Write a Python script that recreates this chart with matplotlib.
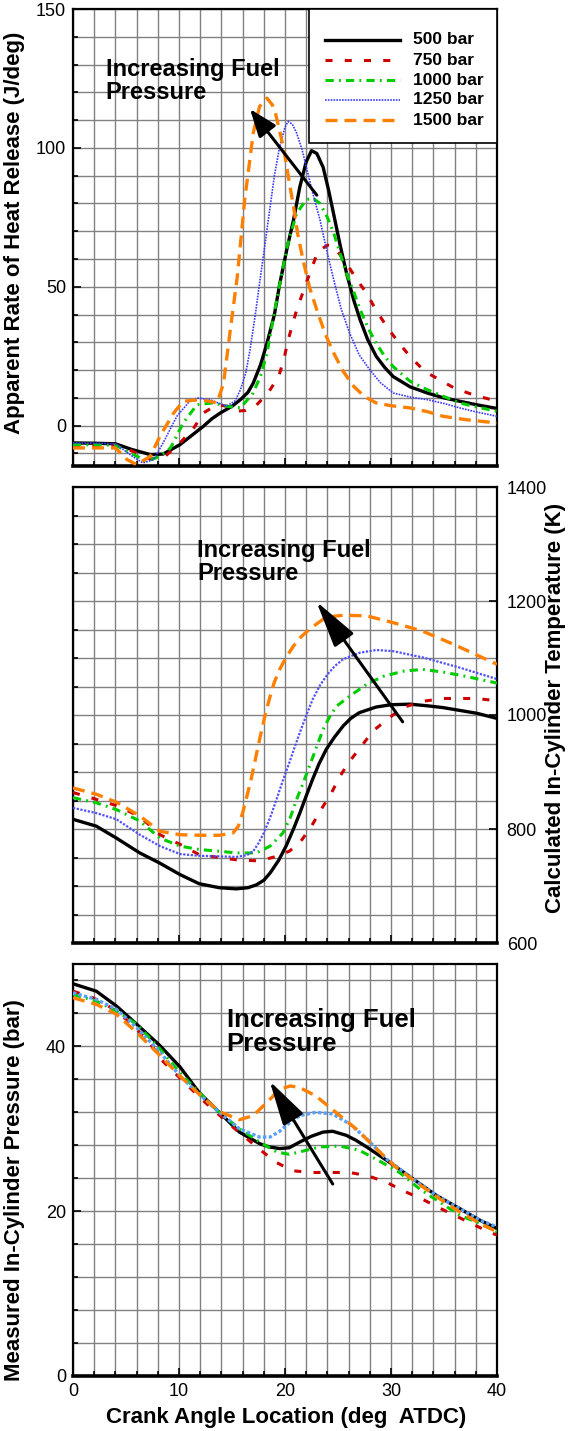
import matplotlib
matplotlib.use("Agg")
import matplotlib.pyplot as plt
from matplotlib.patches import FancyArrowPatch, Rectangle
from matplotlib.lines import Line2D
from matplotlib.ticker import MultipleLocator

plt.rcParams['font.family'] = ['Liberation Sans', 'DejaVu Sans']

# ---------------- data ----------------
pressures = ['500 bar', '750 bar', '1000 bar', '1250 bar', '1500 bar']

# Apparent rate of heat release (J/deg)
hr500_deg = [0, 2, 4, 5.5, 7.3, 8.5, 10.1, 11.2, 12.3, 13.1, 13.9, 15.0, 15.8, 16.5, 17.0, 17.7, 18.3,
             19.0, 19.5, 20.2, 20.8, 21.4, 22.0, 22.5, 23.0, 23.6, 24.1, 24.6, 25.2, 25.8, 26.5, 27.1,
             27.8, 28.6, 29.4, 30.2, 31.8, 33.4, 35.0, 36.5, 38.0, 40]
hr500_val = [-6.2, -6.3, -6.5, -8.5, -10.4, -10.2, -6.8, -3.5, -0.2, 2.5, 4.6, 7.0, 9.4, 12.0, 15.3, 22.0, 29.7,
             40, 51, 64, 74, 86, 95, 99, 98, 93, 85, 76, 65, 55, 45, 38,
             31, 25, 21, 17.7, 14, 11.8, 10, 8.8, 7.6, 6.2]

hr750_deg = [0, 2, 4, 5.5, 7.3, 8.7, 10.1, 11.4, 12.3, 13.6, 14.5, 15.4, 16.3, 17.2, 18.4, 19.4, 19.9,
             20.3, 21.1, 22.0, 23.1, 24.0, 24.6, 25.8, 26.7, 27.7, 28.6, 29.6, 30.7, 31.8, 33.2, 34.6,
             36.0, 37.7, 40]
hr750_val = [-7.4, -7.2, -7.0, -9.0, -12.0, -11.0, -6.2, -0.8, 4.6, 7.6, 7.0, 5.2, 5.5, 7.0, 11.8, 17.7, 24,
             30.9, 41.7, 51.3, 62.7, 65, 64.5, 58.5, 53, 47.7, 41.5, 35.7, 30, 24.9, 19.5, 16.5,
             13.5, 11.2, 8.8]

hr1000_deg = [0, 2, 4, 5.5, 7.0, 8.2, 9.2, 10.4, 11.7, 13.2, 14.5, 15.8, 17.0, 17.7, 18.3, 19.2, 20.2,
              21.1, 22.0, 22.6, 23.3, 24.0, 24.6, 25.2, 25.8, 26.5, 27.1, 27.8, 28.6, 29.4, 30.2, 31.8,
              33.4, 35.0, 36.5, 38.0, 40]
hr1000_val = [-6.8, -6.9, -7.0, -10.0, -12.8, -11.0, -8.0, 1.0, 7.6, 8.2, 7.0, 6.4, 11.8, 18, 26, 45, 64.5,
              76.5, 81.3, 82, 80, 75, 69.3, 62, 54.9, 48, 41.7, 35.5, 29.7, 25, 21.3, 16,
              13, 10.5, 8.2, 6.8, 5.2]

hr1250_deg = [0, 2, 4, 5.6, 6.6, 7.6, 8.5, 9.8, 11.0, 11.7, 12.9, 14.5, 15.3, 15.8, 16.3, 16.7, 17.2,
              17.6, 18.1, 18.6, 19.0, 19.5, 20.0, 20.3, 20.7, 21.1, 21.6, 22.0, 22.6, 23.3, 24.0, 24.6,
              25.3, 26.1, 27.0, 28.0, 29.0, 30.2, 31.8, 33.4, 35.0, 36.5, 38.0, 40]
hr1250_val = [-6.2, -6.3, -6.5, -11.0, -13.4, -12.2, -6.2, 3.4, 8.8, 10.0, 9.4, 7.0, 9.0, 13, 19, 27.3, 40,
              51.3, 65, 78.9, 90, 100.5, 107.5, 109.5, 108.5, 105.3, 99.5, 93.3, 84, 74.1, 62, 52.5,
              42, 33.3, 25.5, 20.1, 15.5, 11.8, 10.3, 9.4, 8.0, 6.4, 5.0, 3.4]

hr1500_deg = [0, 2, 4, 5.1, 6.0, 7.3, 8.2, 9.5, 10.4, 12.0, 13.6, 14.2, 14.8, 15.5, 16.2, 17.0, 17.6,
              18.3, 18.8, 19.1, 19.5, 19.9, 20.3, 20.8, 21.2, 21.7, 22.3, 23.0, 23.8, 24.6, 25.5, 26.5,
              27.5, 28.6, 30.0, 31.8, 33.5, 34.9, 37.0, 40]
hr1500_val = [-8, -8, -8, -12.2, -14, -11, -3.8, 4.6, 8.8, 9.4, 8.2, 15.3, 33.3, 53.7, 81.3, 105.3, 114.9,
              117.9, 115.5, 112.5, 106, 99.3, 90, 78.9, 69, 59.7, 50, 41.7, 33, 26.1, 19.5, 14.1,
              10.5, 8.2, 7.2, 6.4, 5.0, 3.4, 2.2, 1.0]

# Calculated in-cylinder temperature (K)
t500_deg = [0, 2.2, 4.1, 6.3, 8.2, 10.1, 11.9, 13.8, 15.4, 16.5, 17.3, 18.0, 18.6, 19.4, 20.1, 20.8, 21.4,
            22.0, 22.6, 23.2, 23.9, 24.7, 25.5, 26.2, 27.0, 28.6, 30.0, 31.8, 33.5, 34.9, 36.5, 38.1, 40]
t500_val = [817, 805, 784, 758, 740, 720, 704, 697, 695, 697, 702, 710, 723, 745, 770, 800, 828,
            858, 887, 914, 940, 962, 981, 994, 1004, 1014, 1018, 1019, 1016, 1013, 1008, 1003, 994]

t750_deg = [0, 2.2, 4.1, 6.3, 8.2, 10.1, 11.9, 13.8, 15.4, 17.6, 19.2, 20.4, 21.4, 22.5, 23.4, 24.4, 25.2,
            26.1, 27.2, 28.3, 29.7, 31.1, 33.0, 34.9, 36.5, 38.0, 40]
t750_val = [864, 852, 841, 822, 790, 773, 755, 750, 746, 744, 752, 761, 776, 805, 834, 864, 893,
            919, 945, 972, 993, 1013, 1024, 1029, 1029, 1029, 1025]

t1000_deg = [0, 2.2, 4.1, 6.3, 8.2, 10.1, 11.9, 13.8, 15.4, 17.3, 18.6, 19.8, 20.5, 21.1, 21.7, 22.3, 23.0,
             23.6, 24.3, 24.9, 26.1, 27.7, 29.3, 31.2, 33.0, 35.0, 37.0, 40]
t1000_val = [855, 846, 834, 814, 784, 770, 764, 761, 758, 758, 770, 793, 820, 852, 880, 910, 945,
             975, 1000, 1016, 1033, 1054, 1068, 1077, 1080, 1075, 1068, 1056]

t1250_deg = [0, 2.2, 4.1, 6.3, 8.2, 10.1, 11.9, 13.8, 15.4, 16.4, 17.0, 17.5, 18.0, 18.6, 19.2, 19.8, 20.4,
             20.9, 21.4, 22.0, 22.6, 23.3, 24.0, 24.7, 25.5, 27.0, 28.6, 30.2, 33.0, 36.5, 40]
t1250_val = [837, 828, 817, 790, 770, 756, 753, 752, 751, 754, 761, 775, 793, 820, 852, 885, 916,
             943, 969, 999, 1027, 1052, 1071, 1086, 1098, 1109, 1114, 1112, 1101, 1083, 1063]

t1500_deg = [0, 2.2, 4.1, 6.3, 8.2, 10.1, 12.0, 13.8, 15.1, 15.6, 16.0, 16.4, 16.8, 17.2, 17.6, 18.1, 18.6,
             19.0, 19.5, 20.1, 20.8, 21.5, 22.3, 23.0, 23.6, 24.5, 25.5, 27.7, 30.2, 33.0, 35.9, 40]
t1500_val = [872, 861, 847, 823, 796, 790, 789, 789, 793, 805, 828, 857, 887, 922, 957, 998, 1033,
             1058, 1080, 1101, 1121, 1137, 1150, 1160, 1168, 1173, 1175, 1174, 1162, 1147, 1124, 1089]

# Measured in-cylinder pressure (bar)
p500_deg = [0, 2.2, 4.1, 6.0, 8.2, 10.1, 11.9, 13.8, 15.7, 17.6, 18.5, 19.5, 20.4, 21.4, 22.5, 23.6, 24.5,
            25.8, 26.7, 27.7, 29.9, 32.1, 34.3, 36.5, 38.4, 40]
p500_val = [47.6, 46.7, 44.9, 42.7, 40.1, 37.5, 34.4, 32.0, 29.6, 28.2, 27.8, 27.6, 27.7, 28.4, 29.1, 29.6, 29.7,
            29.2, 28.6, 27.8, 25.9, 23.9, 21.9, 20.3, 18.9, 17.9]

p750_deg = [0, 1.9, 3.6, 5.0, 6.3, 7.4, 8.55, 9.9, 12.3, 14.9, 16.4, 17.7, 19.2, 20.75, 22.6, 24.4, 26.1,
            27.8, 29.6, 31.1, 32.9, 34.4, 36.0, 37.6, 39.2, 40]
p750_val = [46.7, 45.9, 44.7, 43.3, 41.7, 40.1, 38.1, 36.4, 33.4, 30.4, 28.8, 27.4, 25.9, 24.9, 24.7, 24.7, 24.7,
            24.3, 23.5, 22.5, 21.5, 20.5, 19.5, 18.5, 17.5, 17.1]

p1000_deg = [0, 2.2, 4.1, 6.0, 8.2, 10.1, 11.9, 13.8, 15.7, 17.6, 19.2, 20.4, 21.4, 23.3, 25.2, 27.0, 28.9,
             30.8, 32.7, 34.6, 36.5, 38.4, 40]
p1000_val = [46.3, 45.5, 44.3, 42.7, 39.7, 36.8, 34.4, 32.0, 30.0, 28.4, 27.2, 26.9, 27.2, 27.8, 27.9, 27.4, 26.1,
             24.7, 22.7, 21.1, 19.5, 18.5, 17.5]

p1250_deg = [0, 2.2, 4.1, 6.0, 8.2, 10.1, 11.9, 13.8, 15.7, 17.6, 18.6, 19.5, 20.4, 21.4, 22.9, 24.5, 26.1,
             27.7, 29.6, 32.1, 34.3, 36.5, 38.4, 40]
p1250_val = [46.5, 45.7, 44.5, 42.3, 39.3, 36.4, 34.2, 32.0, 30.0, 29.0, 29.0, 29.7, 30.7, 31.6, 32.0, 31.8, 30.6,
             28.8, 26.3, 23.9, 21.9, 20.3, 18.9, 18.1]

p1500_deg = [0, 2.2, 4.1, 6.0, 8.2, 10.1, 11.9, 13.8, 15.7, 17.0, 18.3, 19.5, 20.5, 21.4, 22.9, 24.8, 26.7,
             28.6, 30.5, 32.4, 34.6, 36.5, 38.4, 40]
p1500_val = [45.9, 45.1, 43.9, 41.7, 38.9, 36.4, 34.2, 32.1, 31.1, 31.6, 33.2, 34.8, 35.2, 35.0, 34.0, 32.0, 30.0,
             27.6, 25.3, 23.5, 21.5, 19.9, 18.5, 17.5]

# ---------------- styling ----------------
GRID = '#808080'
LABEL_KW = dict(fontsize=16, fontweight='bold')


def series_styles(blue_color, blue_lw):
    return [
        dict(color='black', lw=2.4, linestyle='-'),
        dict(color='#cc0000', lw=2.2, dashes=(2.3, 4.0)),
        dict(color='#00cc00', lw=2.2, dashes=(2.7, 1.7, 0.6, 1.7)),
        dict(color=blue_color, lw=blue_lw, dashes=(1.0, 0.7)),
        dict(color='#ff8000', lw=2.4, dashes=(3.6, 2.1)),
    ]


def style_axes(ax, ymin, ymax, ymajor, yminor, side='left', xlabels=False):
    ax.set_xlim(0, 40)
    ax.set_ylim(ymin, ymax)
    ax.xaxis.set_major_locator(MultipleLocator(10))
    ax.xaxis.set_minor_locator(MultipleLocator(2))
    ax.yaxis.set_major_locator(MultipleLocator(ymajor))
    ax.yaxis.set_minor_locator(MultipleLocator(yminor))
    ax.set_axisbelow(True)
    ax.grid(True, which='both', color=GRID, lw=1.0)
    for s in ax.spines.values():
        s.set_linewidth(1.6)
        s.set_color('black')
    ax.spines['bottom'].set_linewidth(2.6)
    ax.tick_params(which='both', direction='in', width=1.2, colors='black',
                   top=False, labelsize=13, pad=5)
    ax.tick_params(which='major', length=6)
    ax.tick_params(which='minor', length=3.5)
    if side == 'left':
        ax.tick_params(axis='y', left=True, right=False, labelleft=True, labelright=False)
    else:
        ax.tick_params(axis='y', left=False, right=True, labelleft=False, labelright=True, pad=7)
    ax.tick_params(axis='x', labelbottom=xlabels)


def draw_arrow(ax, tail, head, hl, hw):
    ax.add_patch(FancyArrowPatch(tail, head, mutation_scale=1, lw=2.2, color='black',
                                 arrowstyle=f'-|>,head_length={hl},head_width={hw}',
                                 shrinkA=0, shrinkB=0, zorder=6))


def draw_key(ax, labels, styles):
    """Boxed key in the upper-right corner of the axes (positions in axes fraction)."""
    ax.add_patch(Rectangle((0.5566, 0.7068), 0.4434, 0.2932, transform=ax.transAxes,
                           facecolor='white', edgecolor='black', lw=1.2, zorder=10, clip_on=False))
    rows = [0.9322, 0.8884, 0.8446, 0.8009, 0.7571]
    for yy, lab, st in zip(rows, labels, styles):
        ax.add_line(Line2D([0.5943, 0.7712], [yy, yy], transform=ax.transAxes, zorder=11,
                           clip_on=False, **st))
        ax.text(0.8019, yy, lab, transform=ax.transAxes, fontsize=12.5, fontweight='bold',
                ha='left', va='center', zorder=11)


W, H = 568, 1431
fig = plt.figure(figsize=(W / 100, H / 100), dpi=100)
ax1 = fig.add_axes([73 / W, 1 - 466 / H, 424 / W, 457 / H])
ax2 = fig.add_axes([73 / W, 1 - 943 / H, 424 / W, 456 / H])
ax3 = fig.add_axes([73 / W, 1 - 1376 / H, 424 / W, 412 / H])

# --- heat release ---
hr_series = [(hr500_deg, hr500_val), (hr750_deg, hr750_val), (hr1000_deg, hr1000_val),
             (hr1250_deg, hr1250_val), (hr1500_deg, hr1500_val)]
top_styles = series_styles('#3a3aff', 1.2)
for (x, y), st in zip(hr_series, top_styles):
    ax1.plot(x, y, zorder=3, **st)
style_axes(ax1, -14.5, 150, 50, 10, side='left')
draw_key(ax1, pressures, top_styles)
ax1.text(3.1, 132.5, 'Increasing Fuel\nPressure', fontsize=17, fontweight='bold',
         ha='left', va='top', linespacing=1.0, zorder=7)
draw_arrow(ax1, (23.0, 83), (16.7, 114), 17, 6.4)

# --- temperature ---
t_series = [(t500_deg, t500_val), (t750_deg, t750_val), (t1000_deg, t1000_val),
            (t1250_deg, t1250_val), (t1500_deg, t1500_val)]
for (x, y), st in zip(t_series, series_styles('#5050ff', 1.6)):
    ax2.plot(x, y, zorder=3, **st)
style_axes(ax2, 600, 1400, 200, 50, side='right')
ax2.text(11.7, 1309, 'Increasing Fuel\nPressure', fontsize=17, fontweight='bold',
         ha='left', va='top', linespacing=1.0, zorder=7)
draw_arrow(ax2, (31.1, 988), (22.96, 1199), 29, 7.3)

# --- pressure ---
p_series = [(p500_deg, p500_val), (p750_deg, p750_val), (p1000_deg, p1000_val),
            (p1250_deg, p1250_val), (p1500_deg, p1500_val)]
for (x, y), st in zip(p_series, series_styles('#5aa0ff', 2.4)):
    ax3.plot(x, y, zorder=3, **st)
style_axes(ax3, 0, 50, 20, 4, side='left', xlabels=True)
ax3.text(14.5, 44.6, 'Increasing Fuel\nPressure', fontsize=18.5, fontweight='bold',
         ha='left', va='top', linespacing=0.98, zorder=7)
draw_arrow(ax3, (24.5, 23.3), (18.55, 35.8), 27.5, 7.2)

# --- axis titles ---
fig.text(15 / W, 1 - 233 / H, 'Apparent Rate of Heat Release (J/deg)', rotation=90,
         ha='center', va='center', **LABEL_KW)
fig.text(555 / W, 1 - 708 / H, 'Calculated In-Cylinder Temperature (K)', rotation=90,
         ha='center', va='center', **LABEL_KW)
fig.text(15 / W, 1 - 1190 / H, 'Measured In-Cylinder Pressure (bar)', rotation=90,
         ha='center', va='center', **LABEL_KW)
fig.text(286 / W, 1 - 1417 / H, 'Crank Angle Location (deg  ATDC)', ha='center', va='center',
         **LABEL_KW)

fig.savefig('out.png', dpi=100, facecolor='white')
